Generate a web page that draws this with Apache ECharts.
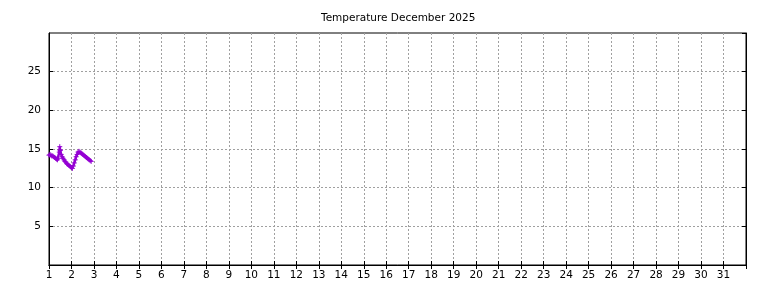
<!DOCTYPE html>
<html><head><meta charset="utf-8">
<script src="https://cdn.jsdelivr.net/npm/echarts@6/dist/echarts.min.js"></script>
<style>html,body{margin:0;padding:0;background:#fff}#c{width:768px;height:288px}</style>
</head><body><div id="c"></div>
<script>
const titleText = "Temperature December 2025";
// day of month (fractional) and temperature (°C)
const days = [1.000,1.042,1.083,1.125,1.167,1.208,1.250,1.292,1.333,1.375,1.417,1.458,1.479,1.490,1.500,1.542,1.583,1.625,1.667,1.708,1.750,1.792,1.833,1.875,1.917,1.958,2.000,2.042,2.083,2.125,2.167,2.208,2.250,2.292,2.333,2.375,2.417,2.458,2.500,2.542,2.583,2.625,2.667,2.708,2.750,2.792,2.833,2.875];
const temps = [14.2,14.3,14.2,14.1,14.1,14.0,13.9,13.8,13.7,13.6,13.8,14.6,15.3,14.9,14.8,14.3,14.0,13.8,13.6,13.4,13.3,13.1,13.0,12.9,12.8,12.7,12.6,12.5,12.8,13.2,13.6,14.0,14.3,14.6,14.7,14.6,14.5,14.4,14.3,14.2,14.1,14.0,13.9,13.8,13.7,13.6,13.5,13.4];
const xMin = 1, xMax = 32, xStep = 1;
const yMin = 0, yMax = 30, yStep = 5;

const chart = echarts.init(document.getElementById('c'), null, {renderer:'canvas'});
const font = {fontFamily:'DejaVu Sans', fontSize:10.5, color:'#000'};
const gridLine = {show:true, lineStyle:{color:'#a0a0a0', type:[2,2], width:1}};
const tick = {show:true, inside:true, length:4, lineStyle:{color:'#000'}};
chart.setOption({
  animation:false,
  backgroundColor:'#fff',
  title:{text:titleText, left:316, top:8, textStyle:{fontFamily:'DejaVu Sans', fontSize:10.5, fontWeight:'normal', color:'#000'}},
  grid:{left:49, right:22, top:33, bottom:23, show:true, borderColor:'#000', borderWidth:1},
  xAxis:[
    {type:'value', min:xMin, max:xMax, interval:xStep, position:'bottom',
     axisLine:{show:true, lineStyle:{color:'#000'}}, axisTick:tick, splitLine:gridLine,
     axisLabel:Object.assign({margin:5, showMaxLabel:false}, font)},
    {type:'value', min:xMin, max:xMax, interval:xStep, position:'top', z:5,
     axisLine:{show:true, lineStyle:{color:'#000'}}, axisTick:tick, splitLine:{show:false}, axisLabel:{show:false}}
  ],
  yAxis:[
    {type:'value', min:yMin, max:yMax, interval:yStep, position:'left',
     axisLine:{show:true, lineStyle:{color:'#000'}}, axisTick:tick,
     splitLine:{show:true, showMaxLine:false, showMinLine:false, lineStyle:{color:'#a0a0a0', type:[2,2], width:1}},
     axisLabel:Object.assign({margin:8, showMinLabel:false, showMaxLabel:false}, font)},
    {type:'value', min:yMin, max:yMax, interval:yStep, position:'right', z:5,
     axisLine:{show:true, lineStyle:{color:'#000'}}, axisTick:tick, splitLine:{show:false}, axisLabel:{show:false}}
  ],
  series:[{
    type:'line', xAxisIndex:0, yAxisIndex:0,
    data:days.map((d,i)=>[d,temps[i]]),
    showSymbol:true, symbol:'path://M-1,0L1,0M0,-1L0,1', symbolSize:5,
    itemStyle:{color:'#9400d3', borderColor:'#9400d3', borderWidth:1},
    lineStyle:{color:'#9400d3', width:2.5}
  }]
});
</script></body></html>
